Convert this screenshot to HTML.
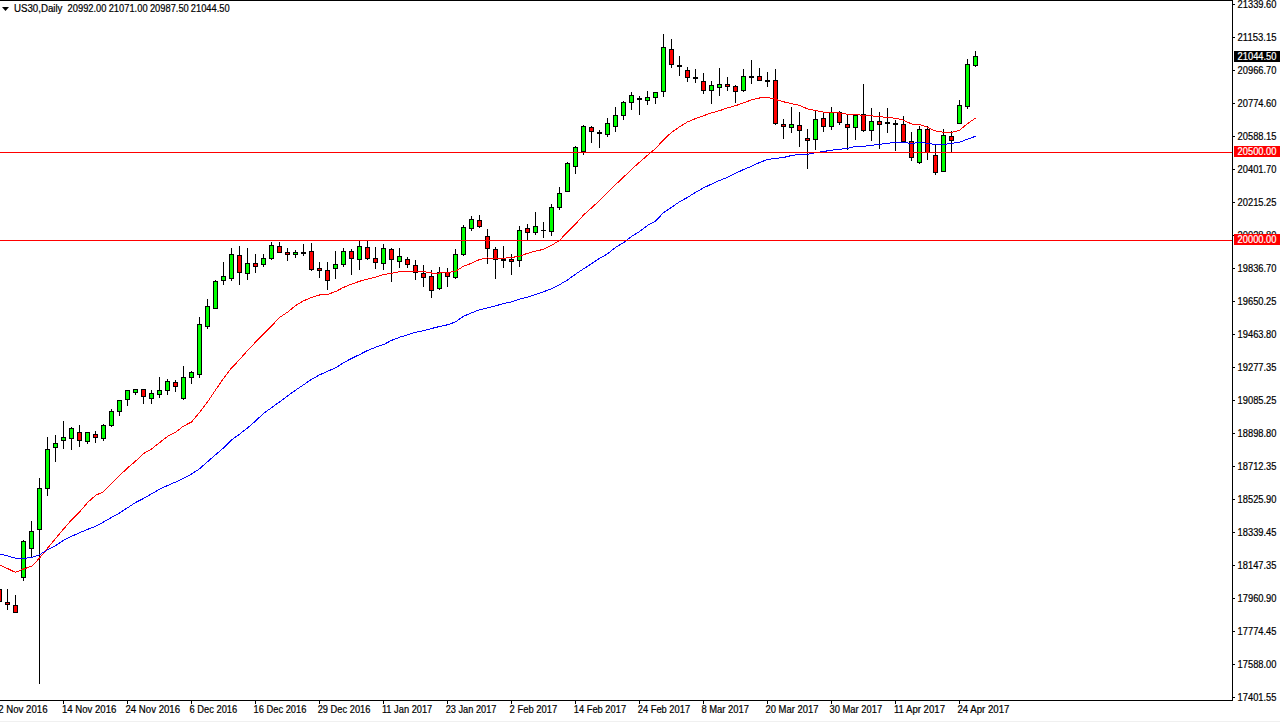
<!DOCTYPE html><html><head><meta charset="utf-8"><style>
html,body{margin:0;padding:0;background:#fff;width:1280px;height:722px;overflow:hidden}
svg{display:block}
text{font-family:"Liberation Sans",sans-serif;font-size:10px;fill:#000;stroke:#000;stroke-width:0.2px}
</style></head><body>
<svg width="1280" height="722" viewBox="0 0 1280 722">
<rect x="0" y="0" width="1280" height="722" fill="#ffffff"/>
<rect x="0" y="721" width="1280" height="1" fill="#f0f0f0"/>
<defs><clipPath id="cp"><rect x="0" y="1" width="1232" height="699"/></clipPath></defs>
<g clip-path="url(#cp)" shape-rendering="crispEdges">
<rect x="-1" y="589" width="1" height="13" fill="#000"/>
<rect x="-3" y="589" width="5" height="13" fill="#000"/>
<rect x="-2" y="590" width="3" height="11" fill="#ff0000"/>
<rect x="7" y="589" width="1" height="21" fill="#000"/>
<rect x="5" y="602" width="5" height="3" fill="#000"/>
<rect x="6" y="603" width="3" height="1" fill="#ff0000"/>
<rect x="15" y="595" width="1" height="18" fill="#000"/>
<rect x="13" y="605" width="5" height="8" fill="#000"/>
<rect x="14" y="606" width="3" height="6" fill="#ff0000"/>
<rect x="23" y="540" width="1" height="41" fill="#000"/>
<rect x="21" y="541" width="5" height="37" fill="#000"/>
<rect x="22" y="542" width="3" height="35" fill="#00ff00"/>
<rect x="31" y="521" width="1" height="36" fill="#000"/>
<rect x="29" y="531" width="5" height="18" fill="#000"/>
<rect x="30" y="532" width="3" height="16" fill="#00ff00"/>
<rect x="39" y="478" width="1" height="206" fill="#000"/>
<rect x="37" y="488" width="5" height="42" fill="#000"/>
<rect x="38" y="489" width="3" height="40" fill="#00ff00"/>
<rect x="47" y="437" width="1" height="59" fill="#000"/>
<rect x="45" y="449" width="5" height="40" fill="#000"/>
<rect x="46" y="450" width="3" height="38" fill="#00ff00"/>
<rect x="55" y="435" width="1" height="27" fill="#000"/>
<rect x="53" y="443" width="5" height="5" fill="#000"/>
<rect x="54" y="444" width="3" height="3" fill="#00ff00"/>
<rect x="63" y="421" width="1" height="28" fill="#000"/>
<rect x="61" y="437" width="5" height="4" fill="#000"/>
<rect x="62" y="438" width="3" height="2" fill="#00ff00"/>
<rect x="71" y="427" width="1" height="23" fill="#000"/>
<rect x="69" y="428" width="5" height="11" fill="#000"/>
<rect x="70" y="429" width="3" height="9" fill="#00ff00"/>
<rect x="79" y="425" width="1" height="22" fill="#000"/>
<rect x="77" y="432" width="5" height="9" fill="#000"/>
<rect x="78" y="433" width="3" height="7" fill="#ff0000"/>
<rect x="87" y="432" width="1" height="12" fill="#000"/>
<rect x="85" y="432" width="5" height="10" fill="#000"/>
<rect x="86" y="433" width="3" height="8" fill="#00ff00"/>
<rect x="95" y="431" width="1" height="12" fill="#000"/>
<rect x="93" y="434" width="5" height="4" fill="#000"/>
<rect x="94" y="435" width="3" height="2" fill="#ff0000"/>
<rect x="103" y="424" width="1" height="17" fill="#000"/>
<rect x="101" y="425" width="5" height="14" fill="#000"/>
<rect x="102" y="426" width="3" height="12" fill="#00ff00"/>
<rect x="111" y="409" width="1" height="18" fill="#000"/>
<rect x="109" y="411" width="5" height="15" fill="#000"/>
<rect x="110" y="412" width="3" height="13" fill="#00ff00"/>
<rect x="119" y="400" width="1" height="16" fill="#000"/>
<rect x="117" y="400" width="5" height="12" fill="#000"/>
<rect x="118" y="401" width="3" height="10" fill="#00ff00"/>
<rect x="127" y="390" width="1" height="16" fill="#000"/>
<rect x="125" y="390" width="5" height="10" fill="#000"/>
<rect x="126" y="391" width="3" height="8" fill="#00ff00"/>
<rect x="135" y="389" width="1" height="6" fill="#000"/>
<rect x="133" y="389" width="5" height="4" fill="#000"/>
<rect x="134" y="390" width="3" height="2" fill="#00ff00"/>
<rect x="143" y="389" width="1" height="15" fill="#000"/>
<rect x="141" y="389" width="5" height="8" fill="#000"/>
<rect x="142" y="390" width="3" height="6" fill="#ff0000"/>
<rect x="151" y="390" width="1" height="14" fill="#000"/>
<rect x="149" y="393" width="5" height="6" fill="#000"/>
<rect x="150" y="394" width="3" height="4" fill="#00ff00"/>
<rect x="159" y="377" width="1" height="21" fill="#000"/>
<rect x="157" y="390" width="5" height="5" fill="#000"/>
<rect x="158" y="391" width="3" height="3" fill="#00ff00"/>
<rect x="167" y="379" width="1" height="16" fill="#000"/>
<rect x="165" y="381" width="5" height="10" fill="#000"/>
<rect x="166" y="382" width="3" height="8" fill="#00ff00"/>
<rect x="175" y="380" width="1" height="12" fill="#000"/>
<rect x="173" y="382" width="5" height="5" fill="#000"/>
<rect x="174" y="383" width="3" height="3" fill="#ff0000"/>
<rect x="183" y="366" width="1" height="34" fill="#000"/>
<rect x="181" y="377" width="5" height="22" fill="#000"/>
<rect x="182" y="378" width="3" height="20" fill="#00ff00"/>
<rect x="191" y="371" width="1" height="13" fill="#000"/>
<rect x="189" y="372" width="5" height="6" fill="#000"/>
<rect x="190" y="373" width="3" height="4" fill="#00ff00"/>
<rect x="199" y="317" width="1" height="61" fill="#000"/>
<rect x="197" y="324" width="5" height="51" fill="#000"/>
<rect x="198" y="325" width="3" height="49" fill="#00ff00"/>
<rect x="207" y="299" width="1" height="30" fill="#000"/>
<rect x="205" y="306" width="5" height="21" fill="#000"/>
<rect x="206" y="307" width="3" height="19" fill="#00ff00"/>
<rect x="215" y="280" width="1" height="29" fill="#000"/>
<rect x="213" y="281" width="5" height="28" fill="#000"/>
<rect x="214" y="282" width="3" height="26" fill="#00ff00"/>
<rect x="223" y="262" width="1" height="23" fill="#000"/>
<rect x="221" y="276" width="5" height="5" fill="#000"/>
<rect x="222" y="277" width="3" height="3" fill="#00ff00"/>
<rect x="231" y="248" width="1" height="33" fill="#000"/>
<rect x="229" y="254" width="5" height="25" fill="#000"/>
<rect x="230" y="255" width="3" height="23" fill="#00ff00"/>
<rect x="239" y="246" width="1" height="39" fill="#000"/>
<rect x="237" y="255" width="5" height="18" fill="#000"/>
<rect x="238" y="256" width="3" height="16" fill="#ff0000"/>
<rect x="247" y="248" width="1" height="32" fill="#000"/>
<rect x="245" y="263" width="5" height="11" fill="#000"/>
<rect x="246" y="264" width="3" height="9" fill="#00ff00"/>
<rect x="255" y="254" width="1" height="19" fill="#000"/>
<rect x="253" y="263" width="5" height="4" fill="#000"/>
<rect x="254" y="264" width="3" height="2" fill="#ff0000"/>
<rect x="263" y="254" width="1" height="13" fill="#000"/>
<rect x="261" y="258" width="5" height="7" fill="#000"/>
<rect x="262" y="259" width="3" height="5" fill="#00ff00"/>
<rect x="271" y="242" width="1" height="18" fill="#000"/>
<rect x="269" y="245" width="5" height="14" fill="#000"/>
<rect x="270" y="246" width="3" height="12" fill="#00ff00"/>
<rect x="279" y="242" width="1" height="11" fill="#000"/>
<rect x="277" y="246" width="5" height="7" fill="#000"/>
<rect x="278" y="247" width="3" height="5" fill="#ff0000"/>
<rect x="287" y="248" width="1" height="13" fill="#000"/>
<rect x="285" y="252" width="5" height="3" fill="#000"/>
<rect x="286" y="253" width="3" height="1" fill="#ff0000"/>
<rect x="295" y="250" width="1" height="8" fill="#000"/>
<rect x="293" y="252" width="5" height="3" fill="#000"/>
<rect x="294" y="253" width="3" height="1" fill="#00ff00"/>
<rect x="303" y="244" width="1" height="12" fill="#000"/>
<rect x="301" y="252" width="5" height="2" fill="#000"/>
<rect x="311" y="243" width="1" height="28" fill="#000"/>
<rect x="309" y="251" width="5" height="19" fill="#000"/>
<rect x="310" y="252" width="3" height="17" fill="#ff0000"/>
<rect x="319" y="262" width="1" height="16" fill="#000"/>
<rect x="317" y="268" width="5" height="3" fill="#000"/>
<rect x="318" y="269" width="3" height="1" fill="#ff0000"/>
<rect x="327" y="262" width="1" height="28" fill="#000"/>
<rect x="325" y="270" width="5" height="11" fill="#000"/>
<rect x="326" y="271" width="3" height="9" fill="#ff0000"/>
<rect x="335" y="251" width="1" height="28" fill="#000"/>
<rect x="333" y="264" width="5" height="5" fill="#000"/>
<rect x="334" y="265" width="3" height="3" fill="#00ff00"/>
<rect x="343" y="248" width="1" height="19" fill="#000"/>
<rect x="341" y="251" width="5" height="14" fill="#000"/>
<rect x="342" y="252" width="3" height="12" fill="#00ff00"/>
<rect x="351" y="249" width="1" height="26" fill="#000"/>
<rect x="349" y="251" width="5" height="8" fill="#000"/>
<rect x="350" y="252" width="3" height="6" fill="#ff0000"/>
<rect x="359" y="241" width="1" height="29" fill="#000"/>
<rect x="357" y="246" width="5" height="14" fill="#000"/>
<rect x="358" y="247" width="3" height="12" fill="#00ff00"/>
<rect x="367" y="241" width="1" height="19" fill="#000"/>
<rect x="365" y="247" width="5" height="12" fill="#000"/>
<rect x="366" y="248" width="3" height="10" fill="#ff0000"/>
<rect x="375" y="247" width="1" height="22" fill="#000"/>
<rect x="373" y="258" width="5" height="5" fill="#000"/>
<rect x="374" y="259" width="3" height="3" fill="#ff0000"/>
<rect x="383" y="244" width="1" height="26" fill="#000"/>
<rect x="381" y="248" width="5" height="16" fill="#000"/>
<rect x="382" y="249" width="3" height="14" fill="#00ff00"/>
<rect x="391" y="248" width="1" height="34" fill="#000"/>
<rect x="389" y="249" width="5" height="11" fill="#000"/>
<rect x="390" y="250" width="3" height="9" fill="#ff0000"/>
<rect x="399" y="248" width="1" height="20" fill="#000"/>
<rect x="397" y="256" width="5" height="6" fill="#000"/>
<rect x="398" y="257" width="3" height="4" fill="#00ff00"/>
<rect x="407" y="257" width="1" height="11" fill="#000"/>
<rect x="405" y="259" width="5" height="6" fill="#000"/>
<rect x="406" y="260" width="3" height="4" fill="#ff0000"/>
<rect x="415" y="260" width="1" height="20" fill="#000"/>
<rect x="413" y="265" width="5" height="8" fill="#000"/>
<rect x="414" y="266" width="3" height="6" fill="#ff0000"/>
<rect x="423" y="265" width="1" height="22" fill="#000"/>
<rect x="421" y="273" width="5" height="5" fill="#000"/>
<rect x="422" y="274" width="3" height="3" fill="#ff0000"/>
<rect x="431" y="270" width="1" height="28" fill="#000"/>
<rect x="429" y="276" width="5" height="15" fill="#000"/>
<rect x="430" y="277" width="3" height="13" fill="#ff0000"/>
<rect x="439" y="267" width="1" height="23" fill="#000"/>
<rect x="437" y="272" width="5" height="17" fill="#000"/>
<rect x="438" y="273" width="3" height="15" fill="#00ff00"/>
<rect x="447" y="268" width="1" height="19" fill="#000"/>
<rect x="445" y="272" width="5" height="5" fill="#000"/>
<rect x="446" y="273" width="3" height="3" fill="#ff0000"/>
<rect x="455" y="249" width="1" height="30" fill="#000"/>
<rect x="453" y="254" width="5" height="24" fill="#000"/>
<rect x="454" y="255" width="3" height="22" fill="#00ff00"/>
<rect x="463" y="225" width="1" height="31" fill="#000"/>
<rect x="461" y="227" width="5" height="28" fill="#000"/>
<rect x="462" y="228" width="3" height="26" fill="#00ff00"/>
<rect x="471" y="216" width="1" height="15" fill="#000"/>
<rect x="469" y="219" width="5" height="10" fill="#000"/>
<rect x="470" y="220" width="3" height="8" fill="#00ff00"/>
<rect x="479" y="215" width="1" height="13" fill="#000"/>
<rect x="477" y="220" width="5" height="7" fill="#000"/>
<rect x="478" y="221" width="3" height="5" fill="#ff0000"/>
<rect x="487" y="229" width="1" height="35" fill="#000"/>
<rect x="485" y="236" width="5" height="13" fill="#000"/>
<rect x="486" y="237" width="3" height="11" fill="#ff0000"/>
<rect x="495" y="247" width="1" height="32" fill="#000"/>
<rect x="493" y="249" width="5" height="11" fill="#000"/>
<rect x="494" y="250" width="3" height="9" fill="#ff0000"/>
<rect x="503" y="246" width="1" height="22" fill="#000"/>
<rect x="501" y="259" width="5" height="2" fill="#000"/>
<rect x="511" y="254" width="1" height="21" fill="#000"/>
<rect x="509" y="259" width="5" height="3" fill="#000"/>
<rect x="510" y="260" width="3" height="1" fill="#ff0000"/>
<rect x="519" y="226" width="1" height="41" fill="#000"/>
<rect x="517" y="230" width="5" height="31" fill="#000"/>
<rect x="518" y="231" width="3" height="29" fill="#00ff00"/>
<rect x="527" y="224" width="1" height="16" fill="#000"/>
<rect x="525" y="228" width="5" height="5" fill="#000"/>
<rect x="526" y="229" width="3" height="3" fill="#ff0000"/>
<rect x="535" y="212" width="1" height="23" fill="#000"/>
<rect x="533" y="226" width="5" height="7" fill="#000"/>
<rect x="534" y="227" width="3" height="5" fill="#00ff00"/>
<rect x="543" y="222" width="1" height="16" fill="#000"/>
<rect x="541" y="230" width="5" height="1" fill="#000"/>
<rect x="551" y="204" width="1" height="32" fill="#000"/>
<rect x="549" y="207" width="5" height="25" fill="#000"/>
<rect x="550" y="208" width="3" height="23" fill="#00ff00"/>
<rect x="559" y="187" width="1" height="23" fill="#000"/>
<rect x="557" y="193" width="5" height="15" fill="#000"/>
<rect x="558" y="194" width="3" height="13" fill="#00ff00"/>
<rect x="567" y="162" width="1" height="30" fill="#000"/>
<rect x="565" y="163" width="5" height="29" fill="#000"/>
<rect x="566" y="164" width="3" height="27" fill="#00ff00"/>
<rect x="575" y="146" width="1" height="28" fill="#000"/>
<rect x="573" y="147" width="5" height="20" fill="#000"/>
<rect x="574" y="148" width="3" height="18" fill="#00ff00"/>
<rect x="583" y="125" width="1" height="30" fill="#000"/>
<rect x="581" y="126" width="5" height="26" fill="#000"/>
<rect x="582" y="127" width="3" height="24" fill="#00ff00"/>
<rect x="591" y="126" width="1" height="17" fill="#000"/>
<rect x="589" y="127" width="5" height="5" fill="#000"/>
<rect x="590" y="128" width="3" height="3" fill="#ff0000"/>
<rect x="599" y="130" width="1" height="18" fill="#000"/>
<rect x="597" y="132" width="5" height="2" fill="#000"/>
<rect x="607" y="118" width="1" height="19" fill="#000"/>
<rect x="605" y="123" width="5" height="12" fill="#000"/>
<rect x="606" y="124" width="3" height="10" fill="#00ff00"/>
<rect x="615" y="107" width="1" height="25" fill="#000"/>
<rect x="613" y="115" width="5" height="12" fill="#000"/>
<rect x="614" y="116" width="3" height="10" fill="#00ff00"/>
<rect x="623" y="101" width="1" height="19" fill="#000"/>
<rect x="621" y="102" width="5" height="14" fill="#000"/>
<rect x="622" y="103" width="3" height="12" fill="#00ff00"/>
<rect x="631" y="92" width="1" height="18" fill="#000"/>
<rect x="629" y="95" width="5" height="8" fill="#000"/>
<rect x="630" y="96" width="3" height="6" fill="#00ff00"/>
<rect x="639" y="96" width="1" height="19" fill="#000"/>
<rect x="637" y="98" width="5" height="2" fill="#000"/>
<rect x="647" y="91" width="1" height="14" fill="#000"/>
<rect x="645" y="97" width="5" height="4" fill="#000"/>
<rect x="646" y="98" width="3" height="2" fill="#00ff00"/>
<rect x="655" y="92" width="1" height="12" fill="#000"/>
<rect x="653" y="92" width="5" height="6" fill="#000"/>
<rect x="654" y="93" width="3" height="4" fill="#00ff00"/>
<rect x="663" y="34" width="1" height="63" fill="#000"/>
<rect x="661" y="47" width="5" height="45" fill="#000"/>
<rect x="662" y="48" width="3" height="43" fill="#00ff00"/>
<rect x="671" y="39" width="1" height="29" fill="#000"/>
<rect x="669" y="49" width="5" height="16" fill="#000"/>
<rect x="670" y="50" width="3" height="14" fill="#ff0000"/>
<rect x="679" y="56" width="1" height="20" fill="#000"/>
<rect x="677" y="65" width="5" height="2" fill="#000"/>
<rect x="687" y="67" width="1" height="15" fill="#000"/>
<rect x="685" y="70" width="5" height="8" fill="#000"/>
<rect x="686" y="71" width="3" height="6" fill="#ff0000"/>
<rect x="695" y="69" width="1" height="14" fill="#000"/>
<rect x="693" y="77" width="5" height="2" fill="#000"/>
<rect x="703" y="73" width="1" height="21" fill="#000"/>
<rect x="701" y="81" width="5" height="10" fill="#000"/>
<rect x="702" y="82" width="3" height="8" fill="#ff0000"/>
<rect x="711" y="81" width="1" height="23" fill="#000"/>
<rect x="709" y="85" width="5" height="6" fill="#000"/>
<rect x="710" y="86" width="3" height="4" fill="#00ff00"/>
<rect x="719" y="68" width="1" height="28" fill="#000"/>
<rect x="717" y="84" width="5" height="4" fill="#000"/>
<rect x="718" y="85" width="3" height="2" fill="#00ff00"/>
<rect x="727" y="77" width="1" height="14" fill="#000"/>
<rect x="725" y="84" width="5" height="3" fill="#000"/>
<rect x="726" y="85" width="3" height="1" fill="#ff0000"/>
<rect x="735" y="85" width="1" height="18" fill="#000"/>
<rect x="733" y="86" width="5" height="6" fill="#000"/>
<rect x="734" y="87" width="3" height="4" fill="#ff0000"/>
<rect x="743" y="69" width="1" height="23" fill="#000"/>
<rect x="741" y="76" width="5" height="15" fill="#000"/>
<rect x="742" y="77" width="3" height="13" fill="#00ff00"/>
<rect x="751" y="60" width="1" height="24" fill="#000"/>
<rect x="749" y="76" width="5" height="2" fill="#000"/>
<rect x="759" y="68" width="1" height="13" fill="#000"/>
<rect x="757" y="76" width="5" height="5" fill="#000"/>
<rect x="758" y="77" width="3" height="3" fill="#ff0000"/>
<rect x="767" y="72" width="1" height="15" fill="#000"/>
<rect x="765" y="80" width="5" height="2" fill="#000"/>
<rect x="775" y="69" width="1" height="56" fill="#000"/>
<rect x="773" y="80" width="5" height="44" fill="#000"/>
<rect x="774" y="81" width="3" height="42" fill="#ff0000"/>
<rect x="783" y="119" width="1" height="20" fill="#000"/>
<rect x="781" y="124" width="5" height="3" fill="#000"/>
<rect x="782" y="125" width="3" height="1" fill="#ff0000"/>
<rect x="791" y="107" width="1" height="26" fill="#000"/>
<rect x="789" y="124" width="5" height="4" fill="#000"/>
<rect x="790" y="125" width="3" height="2" fill="#00ff00"/>
<rect x="799" y="112" width="1" height="35" fill="#000"/>
<rect x="797" y="125" width="5" height="6" fill="#000"/>
<rect x="798" y="126" width="3" height="4" fill="#ff0000"/>
<rect x="807" y="129" width="1" height="40" fill="#000"/>
<rect x="805" y="138" width="5" height="3" fill="#000"/>
<rect x="806" y="139" width="3" height="1" fill="#ff0000"/>
<rect x="815" y="111" width="1" height="39" fill="#000"/>
<rect x="813" y="119" width="5" height="21" fill="#000"/>
<rect x="814" y="120" width="3" height="19" fill="#00ff00"/>
<rect x="823" y="113" width="1" height="19" fill="#000"/>
<rect x="821" y="118" width="5" height="9" fill="#000"/>
<rect x="822" y="119" width="3" height="7" fill="#ff0000"/>
<rect x="831" y="107" width="1" height="23" fill="#000"/>
<rect x="829" y="112" width="5" height="15" fill="#000"/>
<rect x="830" y="113" width="3" height="13" fill="#00ff00"/>
<rect x="839" y="111" width="1" height="14" fill="#000"/>
<rect x="837" y="112" width="5" height="11" fill="#000"/>
<rect x="838" y="113" width="3" height="9" fill="#ff0000"/>
<rect x="847" y="115" width="1" height="35" fill="#000"/>
<rect x="845" y="124" width="5" height="4" fill="#000"/>
<rect x="846" y="125" width="3" height="2" fill="#ff0000"/>
<rect x="855" y="115" width="1" height="25" fill="#000"/>
<rect x="853" y="115" width="5" height="13" fill="#000"/>
<rect x="854" y="116" width="3" height="11" fill="#00ff00"/>
<rect x="863" y="84" width="1" height="48" fill="#000"/>
<rect x="861" y="114" width="5" height="17" fill="#000"/>
<rect x="862" y="115" width="3" height="15" fill="#ff0000"/>
<rect x="871" y="108" width="1" height="33" fill="#000"/>
<rect x="869" y="121" width="5" height="10" fill="#000"/>
<rect x="870" y="122" width="3" height="8" fill="#00ff00"/>
<rect x="879" y="112" width="1" height="37" fill="#000"/>
<rect x="877" y="121" width="5" height="4" fill="#000"/>
<rect x="878" y="122" width="3" height="2" fill="#ff0000"/>
<rect x="887" y="108" width="1" height="25" fill="#000"/>
<rect x="885" y="122" width="5" height="2" fill="#000"/>
<rect x="895" y="120" width="1" height="31" fill="#000"/>
<rect x="893" y="123" width="5" height="2" fill="#000"/>
<rect x="903" y="116" width="1" height="26" fill="#000"/>
<rect x="901" y="124" width="5" height="18" fill="#000"/>
<rect x="902" y="125" width="3" height="16" fill="#ff0000"/>
<rect x="911" y="132" width="1" height="29" fill="#000"/>
<rect x="909" y="141" width="5" height="17" fill="#000"/>
<rect x="910" y="142" width="3" height="15" fill="#ff0000"/>
<rect x="919" y="126" width="1" height="38" fill="#000"/>
<rect x="917" y="129" width="5" height="34" fill="#000"/>
<rect x="918" y="130" width="3" height="32" fill="#00ff00"/>
<rect x="927" y="126" width="1" height="34" fill="#000"/>
<rect x="925" y="129" width="5" height="24" fill="#000"/>
<rect x="926" y="130" width="3" height="22" fill="#ff0000"/>
<rect x="935" y="145" width="1" height="30" fill="#000"/>
<rect x="933" y="155" width="5" height="18" fill="#000"/>
<rect x="934" y="156" width="3" height="16" fill="#ff0000"/>
<rect x="943" y="129" width="1" height="43" fill="#000"/>
<rect x="941" y="135" width="5" height="37" fill="#000"/>
<rect x="942" y="136" width="3" height="35" fill="#00ff00"/>
<rect x="951" y="131" width="1" height="21" fill="#000"/>
<rect x="949" y="136" width="5" height="5" fill="#000"/>
<rect x="950" y="137" width="3" height="3" fill="#ff0000"/>
<rect x="959" y="100" width="1" height="24" fill="#000"/>
<rect x="957" y="105" width="5" height="19" fill="#000"/>
<rect x="958" y="106" width="3" height="17" fill="#00ff00"/>
<rect x="967" y="59" width="1" height="50" fill="#000"/>
<rect x="965" y="64" width="5" height="43" fill="#000"/>
<rect x="966" y="65" width="3" height="41" fill="#00ff00"/>
<rect x="975" y="51" width="1" height="16" fill="#000"/>
<rect x="973" y="56" width="5" height="10" fill="#000"/>
<rect x="974" y="57" width="3" height="8" fill="#00ff00"/>
</g>
<g clip-path="url(#cp)">
<polyline points="0.5,565.2 15.5,572.4 23.5,569.0 31.5,566.3 39.5,558.2 47.5,548.2 55.5,538.7 63.5,529.1 71.5,520.0 79.5,512.1 87.5,502.6 95.5,495.4 103.5,491.8 111.5,483.3 119.5,475.6 127.5,468.0 135.5,461.2 143.5,453.6 151.5,449.0 159.5,442.7 167.5,436.4 175.5,432.4 183.5,426.1 191.5,422.0 199.5,412.5 207.5,402.0 215.5,390.0 223.5,378.5 231.5,368.0 239.5,359.7 247.5,350.5 255.5,342.2 263.5,334.0 271.5,326.0 279.5,317.5 287.5,312.2 295.5,305.7 303.5,300.8 311.5,297.5 319.5,295.0 327.5,294.4 335.5,291.6 343.5,287.4 351.5,284.1 359.5,281.3 367.5,279.1 375.5,277.1 383.5,274.6 391.5,273.3 399.5,271.6 407.5,271.3 415.5,271.3 423.5,271.6 431.5,273.0 439.5,273.0 447.5,272.5 455.5,271.3 463.5,266.3 471.5,263.2 479.5,259.5 487.5,258.0 495.5,258.2 503.5,258.2 511.5,257.5 519.5,256.2 527.5,253.3 535.5,251.2 543.5,249.3 551.5,245.4 559.5,240.3 567.5,232.1 575.5,224.2 583.5,215.0 591.5,207.9 599.5,200.5 607.5,192.8 615.5,184.7 623.5,177.2 631.5,169.3 639.5,162.3 647.5,155.3 655.5,148.6 663.5,139.8 671.5,132.4 679.5,126.9 687.5,121.9 695.5,118.6 703.5,115.7 711.5,112.9 719.5,110.7 727.5,107.9 735.5,105.7 743.5,102.9 751.5,99.9 759.5,98.0 767.5,97.5 775.5,99.4 783.5,101.8 791.5,103.6 799.5,105.3 807.5,108.9 815.5,110.5 823.5,112.1 831.5,112.5 839.5,113.0 847.5,114.3 855.5,114.6 863.5,115.4 871.5,115.9 879.5,116.6 887.5,117.6 895.5,118.2 903.5,120.2 911.5,124.0 919.5,124.5 927.5,127.3 935.5,131.0 943.5,132.3 951.5,132.3 959.5,130.3 967.5,123.6 975.5,118.2" fill="none" stroke="#ff0000" stroke-width="1" shape-rendering="crispEdges"/>
<polyline points="0.5,554.1 15.5,558.1 23.5,558.4 31.5,557.5 39.5,554.7 47.5,549.9 55.5,545.6 63.5,540.3 71.5,536.4 79.5,532.8 87.5,529.4 95.5,526.4 103.5,522.0 111.5,517.5 119.5,513.0 127.5,507.8 135.5,502.5 143.5,498.5 151.5,493.8 159.5,489.3 167.5,485.5 175.5,482.1 183.5,478.3 191.5,474.1 199.5,468.8 207.5,461.8 215.5,454.8 223.5,448.0 231.5,439.9 239.5,434.2 247.5,428.0 255.5,421.0 263.5,413.5 271.5,407.7 279.5,401.9 287.5,396.0 295.5,390.2 303.5,384.8 311.5,379.4 319.5,374.9 327.5,371.3 335.5,367.9 343.5,362.7 351.5,358.5 359.5,354.6 367.5,350.5 375.5,347.3 383.5,344.6 391.5,340.4 399.5,337.3 407.5,334.8 415.5,332.3 423.5,330.7 431.5,328.5 439.5,326.5 447.5,324.8 455.5,321.9 463.5,316.3 471.5,312.9 479.5,309.7 487.5,307.9 495.5,305.8 503.5,303.7 511.5,301.8 519.5,299.2 527.5,297.1 535.5,294.5 543.5,291.8 551.5,288.7 559.5,284.7 567.5,280.0 575.5,274.2 583.5,268.9 591.5,263.7 599.5,258.4 607.5,253.8 615.5,247.5 623.5,242.7 631.5,236.5 639.5,231.6 647.5,225.4 655.5,221.1 663.5,212.6 671.5,207.4 679.5,201.8 687.5,197.4 695.5,192.4 703.5,187.9 711.5,184.1 719.5,180.5 727.5,177.4 735.5,173.4 743.5,169.5 751.5,166.3 759.5,162.5 767.5,159.5 775.5,158.4 783.5,157.5 791.5,155.5 799.5,154.5 807.5,154.3 815.5,152.6 823.5,151.5 831.5,150.2 839.5,149.3 847.5,148.4 855.5,146.5 863.5,146.3 871.5,145.4 879.5,144.3 887.5,143.4 895.5,142.3 903.5,142.3 911.5,143.6 919.5,142.3 927.5,143.4 935.5,144.5 943.5,144.5 951.5,143.4 959.5,142.3 967.5,139.1 975.5,136.3" fill="none" stroke="#0000ff" stroke-width="1" shape-rendering="crispEdges"/>
</g>
<g shape-rendering="crispEdges">
<rect x="0" y="152" width="1232" height="1" fill="#ff0000"/>
<rect x="0" y="240" width="1232" height="1" fill="#ff0000"/>
</g>
<g shape-rendering="crispEdges">
<rect x="0" y="0" width="1233" height="1" fill="#000"/>
<rect x="1232" y="0" width="1" height="701" fill="#000"/>
<rect x="0" y="700" width="1233" height="1" fill="#000"/>
<rect x="1233" y="4" width="2" height="1" fill="#000"/>
<rect x="1233" y="37" width="2" height="1" fill="#000"/>
<rect x="1233" y="70" width="2" height="1" fill="#000"/>
<rect x="1233" y="103" width="2" height="1" fill="#000"/>
<rect x="1233" y="136" width="2" height="1" fill="#000"/>
<rect x="1233" y="169" width="2" height="1" fill="#000"/>
<rect x="1233" y="202" width="2" height="1" fill="#000"/>
<rect x="1233" y="235" width="2" height="1" fill="#000"/>
<rect x="1233" y="268" width="2" height="1" fill="#000"/>
<rect x="1233" y="301" width="2" height="1" fill="#000"/>
<rect x="1233" y="334" width="2" height="1" fill="#000"/>
<rect x="1233" y="367" width="2" height="1" fill="#000"/>
<rect x="1233" y="400" width="2" height="1" fill="#000"/>
<rect x="1233" y="433" width="2" height="1" fill="#000"/>
<rect x="1233" y="466" width="2" height="1" fill="#000"/>
<rect x="1233" y="499" width="2" height="1" fill="#000"/>
<rect x="1233" y="532" width="2" height="1" fill="#000"/>
<rect x="1233" y="565" width="2" height="1" fill="#000"/>
<rect x="1233" y="598" width="2" height="1" fill="#000"/>
<rect x="1233" y="631" width="2" height="1" fill="#000"/>
<rect x="1233" y="664" width="2" height="1" fill="#000"/>
<rect x="1233" y="697" width="2" height="1" fill="#000"/>
<rect x="63" y="701" width="1" height="3" fill="#000"/>
<rect x="127" y="701" width="1" height="3" fill="#000"/>
<rect x="191" y="701" width="1" height="3" fill="#000"/>
<rect x="255" y="701" width="1" height="3" fill="#000"/>
<rect x="319" y="701" width="1" height="3" fill="#000"/>
<rect x="383" y="701" width="1" height="3" fill="#000"/>
<rect x="447" y="701" width="1" height="3" fill="#000"/>
<rect x="511" y="701" width="1" height="3" fill="#000"/>
<rect x="575" y="701" width="1" height="3" fill="#000"/>
<rect x="639" y="701" width="1" height="3" fill="#000"/>
<rect x="703" y="701" width="1" height="3" fill="#000"/>
<rect x="767" y="701" width="1" height="3" fill="#000"/>
<rect x="831" y="701" width="1" height="3" fill="#000"/>
<rect x="895" y="701" width="1" height="3" fill="#000"/>
<rect x="959" y="701" width="1" height="3" fill="#000"/>
</g>
<text x="1237.6" y="8" textLength="38.9" lengthAdjust="spacingAndGlyphs">21339.60</text>
<text x="1237.6" y="41" textLength="38.9" lengthAdjust="spacingAndGlyphs">21153.15</text>
<text x="1237.6" y="74" textLength="38.9" lengthAdjust="spacingAndGlyphs">20966.70</text>
<text x="1237.6" y="107" textLength="38.9" lengthAdjust="spacingAndGlyphs">20774.60</text>
<text x="1237.6" y="140" textLength="38.9" lengthAdjust="spacingAndGlyphs">20588.15</text>
<text x="1237.6" y="173" textLength="38.9" lengthAdjust="spacingAndGlyphs">20401.70</text>
<text x="1237.6" y="206" textLength="38.9" lengthAdjust="spacingAndGlyphs">20215.25</text>
<text x="1237.6" y="239" textLength="38.9" lengthAdjust="spacingAndGlyphs">20028.80</text>
<text x="1237.6" y="272" textLength="38.9" lengthAdjust="spacingAndGlyphs">19836.70</text>
<text x="1237.6" y="305" textLength="38.9" lengthAdjust="spacingAndGlyphs">19650.25</text>
<text x="1237.6" y="338" textLength="38.9" lengthAdjust="spacingAndGlyphs">19463.80</text>
<text x="1237.6" y="371" textLength="38.9" lengthAdjust="spacingAndGlyphs">19277.35</text>
<text x="1237.6" y="404" textLength="38.9" lengthAdjust="spacingAndGlyphs">19085.25</text>
<text x="1237.6" y="437" textLength="38.9" lengthAdjust="spacingAndGlyphs">18898.80</text>
<text x="1237.6" y="470" textLength="38.9" lengthAdjust="spacingAndGlyphs">18712.35</text>
<text x="1237.6" y="503" textLength="38.9" lengthAdjust="spacingAndGlyphs">18525.90</text>
<text x="1237.6" y="536" textLength="38.9" lengthAdjust="spacingAndGlyphs">18339.45</text>
<text x="1237.6" y="569" textLength="38.9" lengthAdjust="spacingAndGlyphs">18147.35</text>
<text x="1237.6" y="602" textLength="38.9" lengthAdjust="spacingAndGlyphs">17960.90</text>
<text x="1237.6" y="635" textLength="38.9" lengthAdjust="spacingAndGlyphs">17774.45</text>
<text x="1237.6" y="668" textLength="38.9" lengthAdjust="spacingAndGlyphs">17588.00</text>
<text x="1237.6" y="701" textLength="38.9" lengthAdjust="spacingAndGlyphs">17401.55</text>
<rect x="1234" y="51" width="46" height="11" fill="#000" shape-rendering="crispEdges"/>
<text x="1237.6" y="60" textLength="38.9" lengthAdjust="spacingAndGlyphs" style="fill:#fff;stroke:#fff">21044.50</text>
<rect x="1234" y="146" width="46" height="11" fill="#ff0000" shape-rendering="crispEdges"/>
<text x="1237.6" y="155" textLength="38.9" lengthAdjust="spacingAndGlyphs" style="fill:#fff;stroke:#fff">20500.00</text>
<rect x="1234" y="234" width="46" height="11" fill="#ff0000" shape-rendering="crispEdges"/>
<text x="1237.6" y="243" textLength="38.9" lengthAdjust="spacingAndGlyphs" style="fill:#fff;stroke:#fff">20000.00</text>
<text x="-1.8" y="713" textLength="49.3" lengthAdjust="spacingAndGlyphs">2 Nov 2016</text>
<text x="61.9" y="713" textLength="54.5" lengthAdjust="spacingAndGlyphs">14 Nov 2016</text>
<text x="125.4" y="713" textLength="54.7" lengthAdjust="spacingAndGlyphs">24 Nov 2016</text>
<text x="189.6" y="713" textLength="47.6" lengthAdjust="spacingAndGlyphs">6 Dec 2016</text>
<text x="253.6" y="713" textLength="52.8" lengthAdjust="spacingAndGlyphs">16 Dec 2016</text>
<text x="317.7" y="713" textLength="52.7" lengthAdjust="spacingAndGlyphs">29 Dec 2016</text>
<text x="381.9" y="713" textLength="50.4" lengthAdjust="spacingAndGlyphs">11 Jan 2017</text>
<text x="445.7" y="713" textLength="50.7" lengthAdjust="spacingAndGlyphs">23 Jan 2017</text>
<text x="509.6" y="713" textLength="47.7" lengthAdjust="spacingAndGlyphs">2 Feb 2017</text>
<text x="573.8" y="713" textLength="52.3" lengthAdjust="spacingAndGlyphs">14 Feb 2017</text>
<text x="637.8" y="713" textLength="52.3" lengthAdjust="spacingAndGlyphs">24 Feb 2017</text>
<text x="701.4" y="713" textLength="47.6" lengthAdjust="spacingAndGlyphs">8 Mar 2017</text>
<text x="765.5" y="713" textLength="53.0" lengthAdjust="spacingAndGlyphs">20 Mar 2017</text>
<text x="829.5" y="713" textLength="52.6" lengthAdjust="spacingAndGlyphs">30 Mar 2017</text>
<text x="893.9" y="713" textLength="51.1" lengthAdjust="spacingAndGlyphs">11 Apr 2017</text>
<text x="957.4" y="713" textLength="52.0" lengthAdjust="spacingAndGlyphs">24 Apr 2017</text>
<path d="M2,7 L9,7 L5.5,11 Z" fill="#000"/>
<text x="13.9" y="12" textLength="48.6" lengthAdjust="spacingAndGlyphs">US30,Daily</text>
<text x="67.6" y="12" textLength="38.9" lengthAdjust="spacingAndGlyphs">20992.00</text>
<text x="108.7" y="12" textLength="38.9" lengthAdjust="spacingAndGlyphs">21071.00</text>
<text x="149.9" y="12" textLength="38.9" lengthAdjust="spacingAndGlyphs">20987.50</text>
<text x="190.8" y="12" textLength="38.9" lengthAdjust="spacingAndGlyphs">21044.50</text>
</svg></body></html>
